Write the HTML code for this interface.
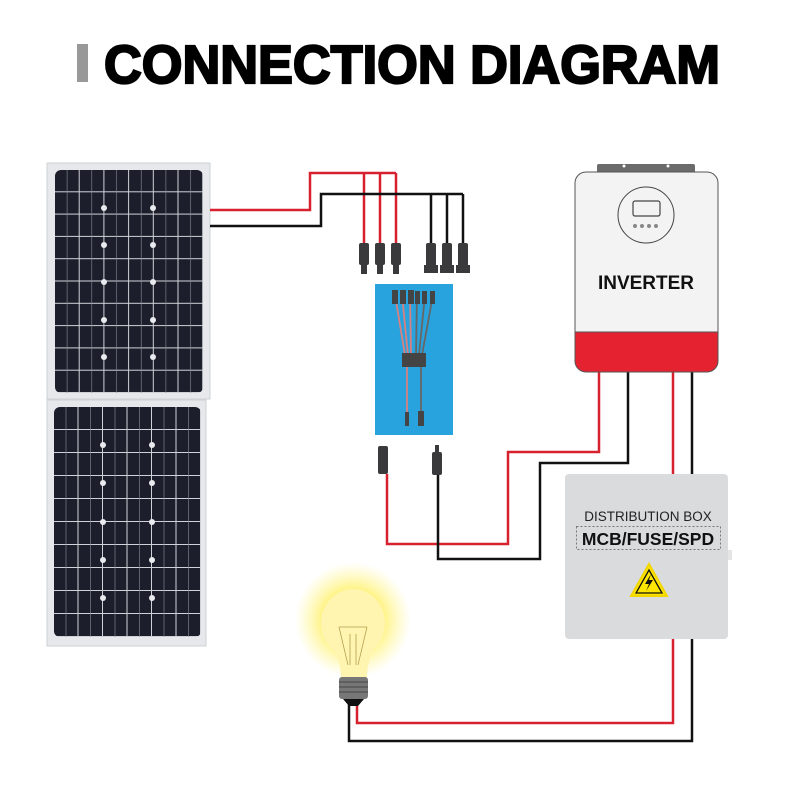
<!DOCTYPE html>
<html><head><meta charset="utf-8"><style>
html,body{margin:0;padding:0;background:#fff;}
svg{display:block;}
</style></head><body>
<svg width="800" height="800" viewBox="0 0 800 800" xmlns="http://www.w3.org/2000/svg">
<defs>
<pattern id="cells" x="55" y="170" width="24.7" height="22.3" patternUnits="userSpaceOnUse">
<rect width="24.7" height="22.3" fill="#1c1f2b"/>
<rect x="23.7" width="1.2" height="22.3" fill="#cfd2d8"/>
<rect y="21.3" width="24.7" height="1.2" fill="#cfd2d8"/>
<rect x="11.8" width="0.6" height="22.3" fill="#8a8e98"/>
</pattern>
<pattern id="cells2" x="54" y="407" width="24.5" height="23" patternUnits="userSpaceOnUse">
<rect width="24.5" height="23" fill="#1c1f2b"/>
<rect x="23.5" width="1.2" height="23" fill="#cfd2d8"/>
<rect y="22" width="24.5" height="1.2" fill="#cfd2d8"/>
<rect x="11.7" width="0.6" height="23" fill="#8a8e98"/>
</pattern>
<radialGradient id="glow" cx="0.5" cy="0.5" r="0.5">
<stop offset="0.5" stop-color="#fff27a" stop-opacity="1"/>
<stop offset="1" stop-color="#fff7a0" stop-opacity="0"/>
</radialGradient>
</defs>

<!-- title -->
<rect x="77" y="44" width="11" height="38" fill="#999"/>
<text x="104" y="83" font-family="Liberation Sans, sans-serif" font-weight="bold" font-size="54" textLength="616" lengthAdjust="spacingAndGlyphs" fill="#000" stroke="#000" stroke-width="2.2">CONNECTION DIAGRAM</text>

<!-- solar panels -->
<rect x="47" y="163" width="163" height="236" fill="#e6e8eb" stroke="#cfd2d6"/>
<rect x="55" y="170" width="148" height="223" rx="6" fill="url(#cells)"/>
<rect x="47" y="400" width="159" height="246" fill="#e6e8eb" stroke="#cfd2d6"/>
<rect x="54" y="407" width="147" height="230" rx="6" fill="url(#cells2)"/>
<g fill="#e8eaee">
<circle cx="104" cy="208" r="3"/><circle cx="153" cy="208" r="3"/><circle cx="104" cy="245" r="3"/><circle cx="153" cy="245" r="3"/><circle cx="104" cy="282" r="3"/><circle cx="153" cy="282" r="3"/><circle cx="104" cy="320" r="3"/><circle cx="153" cy="320" r="3"/><circle cx="104" cy="357" r="3"/><circle cx="153" cy="357" r="3"/>
<circle cx="103" cy="445" r="3"/><circle cx="152" cy="445" r="3"/><circle cx="103" cy="483" r="3"/><circle cx="152" cy="483" r="3"/><circle cx="103" cy="522" r="3"/><circle cx="152" cy="522" r="3"/><circle cx="103" cy="560" r="3"/><circle cx="152" cy="560" r="3"/><circle cx="103" cy="598" r="3"/><circle cx="152" cy="598" r="3"/>
</g>

<!-- top wires -->
<g fill="none" stroke-width="2.5">
<polyline points="210,210 310,210 310,173 396,173" stroke="#d7212f"/>
<line x1="364" y1="173" x2="364" y2="245" stroke="#d7212f"/>
<line x1="380" y1="173" x2="380" y2="245" stroke="#d7212f"/>
<line x1="396" y1="173" x2="396" y2="245" stroke="#d7212f"/>
<polyline points="210,226 321,226 321,194 463,194" stroke="#111"/>
<line x1="431" y1="194" x2="431" y2="245" stroke="#111"/>
<line x1="447" y1="194" x2="447" y2="245" stroke="#111"/>
<line x1="463" y1="194" x2="463" y2="245" stroke="#111"/>
</g>
<!-- connectors -->
<g fill="#3a3a3c">
<rect x="359" y="243" width="10" height="22" rx="2"/><rect x="361" y="264" width="6" height="10"/>
<rect x="375" y="243" width="10" height="22" rx="2"/><rect x="377" y="264" width="6" height="10"/>
<rect x="391" y="243" width="10" height="22" rx="2"/><rect x="393" y="264" width="6" height="10"/>
<rect x="426" y="243" width="10" height="24" rx="2"/><rect x="424" y="265" width="14" height="8"/>
<rect x="442" y="243" width="10" height="24" rx="2"/><rect x="440" y="265" width="14" height="8"/>
<rect x="458" y="243" width="10" height="24" rx="2"/><rect x="456" y="265" width="14" height="8"/>
</g>

<!-- blue box -->
<rect x="375" y="284" width="78" height="151" fill="#29a3dd"/>
<g stroke-width="1.8" fill="none">
<line x1="395" y1="295" x2="405" y2="355" stroke="#d98080"/>
<line x1="402" y1="295" x2="408" y2="355" stroke="#d98080"/>
<line x1="410" y1="295" x2="411" y2="355" stroke="#d98080"/>
<line x1="417" y1="295" x2="416" y2="355" stroke="#666"/>
<line x1="425" y1="295" x2="419" y2="355" stroke="#666"/>
<line x1="433" y1="295" x2="422" y2="355" stroke="#666"/>
<line x1="407" y1="365" x2="407" y2="415" stroke="#d98080"/>
<line x1="421" y1="365" x2="421" y2="415" stroke="#666"/>
</g>
<g fill="#444">
<rect x="392" y="290" width="6" height="14"/><rect x="400" y="290" width="6" height="14"/><rect x="408" y="290" width="6" height="14"/>
<rect x="415" y="291" width="5" height="13"/><rect x="422" y="291" width="5" height="13"/><rect x="430" y="291" width="5" height="13"/>
<rect x="402" y="353" width="24" height="14"/>
<rect x="405" y="412" width="4" height="14"/><rect x="418" y="411" width="6" height="15"/>
</g>

<!-- bottom connectors -->
<g fill="#3a3a3c">
<rect x="378" y="446" width="10" height="28" rx="2"/>
<rect x="432" y="452" width="10" height="23" rx="2"/><rect x="435" y="445" width="4" height="8"/>
</g>

<!-- wires to inverter -->
<g fill="none" stroke-width="2.5">
<polyline points="387,474 387,544 508,544 508,452 599,452 599,372" stroke="#d7212f"/>
<polyline points="438,475 438,559 540,559 540,463 628,463 628,372" stroke="#111"/>
<line x1="673" y1="372" x2="673" y2="475" stroke="#d7212f"/>
<line x1="692" y1="372" x2="692" y2="475" stroke="#111"/>
<polyline points="673,637 673,723 357,723 357,700" stroke="#d7212f"/>
<polyline points="692,637 692,741 349,741 349,700" stroke="#111"/>
</g>

<!-- inverter -->
<rect x="597" y="164" width="98" height="12" rx="2" fill="#6b6b6b"/>
<circle cx="624" cy="166" r="1.5" fill="#fff"/><circle cx="668" cy="166" r="1.5" fill="#fff"/>
<path d="M575,332 V183 a11,11 0 0 1 11,-11 H707 a11,11 0 0 1 11,11 V332 Z" fill="#f3f3f3" stroke="#555" stroke-width="1"/>
<path d="M575,332 H718 V361 a11,11 0 0 1 -11,11 H586 a11,11 0 0 1 -11,-11 Z" fill="#e5222f" stroke="#555" stroke-width="1"/>
<circle cx="646" cy="215" r="28" fill="none" stroke="#444" stroke-width="1"/>
<rect x="633" y="201" width="27" height="15" rx="2" fill="none" stroke="#444" stroke-width="1.2"/>
<g fill="#888"><circle cx="635" cy="226" r="2"/><circle cx="642" cy="226" r="2"/><circle cx="649" cy="226" r="2"/><circle cx="656" cy="226" r="2"/></g>
<text x="646" y="289" text-anchor="middle" font-family="Liberation Sans, sans-serif" font-weight="bold" font-size="19" fill="#111">INVERTER</text>

<!-- distribution box -->
<rect x="565" y="474" width="163" height="165" rx="4" fill="#dadbdd"/>
<rect x="728" y="550" width="4" height="10" fill="#e5e5e5"/>
<text x="648" y="521" text-anchor="middle" font-family="Liberation Sans, sans-serif" font-size="13.5" fill="#222">DISTRIBUTION BOX</text>
<rect x="576.5" y="526.5" width="144" height="23" fill="none" stroke="#777" stroke-dasharray="2,2"/>
<text x="648" y="545" text-anchor="middle" font-family="Liberation Sans, sans-serif" font-weight="bold" font-size="17.5" fill="#111">MCB/FUSE/SPD</text>
<polygon points="649,564 667,596 631,596" fill="#ffe600" stroke="#f2d600" stroke-width="2"/>
<polygon points="649,570 662,593 636,593" fill="none" stroke="#111" stroke-width="1.3"/>
<polygon points="651,574 645,584 649,584 646,591 653,580 649,580" fill="#111"/>

<!-- bulb -->
<circle cx="353" cy="620" r="58" fill="url(#glow)"/>
<ellipse cx="353" cy="623" rx="32" ry="34" fill="#fff4b0"/>
<path d="M331,645 Q341,660 341,678 H367 Q367,660 376,645 Z" fill="#fff4b0"/>
<g fill="none" stroke="#b5a050" stroke-width="0.8">
<path d="M339,627 L348,665 M367,627 L358,665 M339,627 H367 M350,634 V665 M356,634 V665"/>
</g>
<rect x="339" y="677" width="29" height="22" rx="3" fill="#777"/>
<g stroke="#444" stroke-width="1"><line x1="339" y1="682" x2="368" y2="682"/><line x1="339" y1="687" x2="368" y2="687"/><line x1="339" y1="692" x2="368" y2="692"/></g>
<path d="M343,699 H364 L358,706 H349 Z" fill="#111"/>
</svg>
</body></html>
